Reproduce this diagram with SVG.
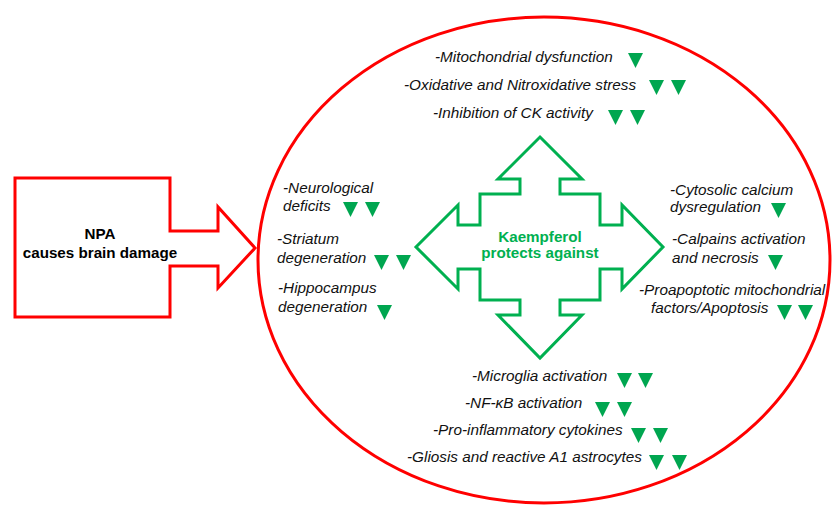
<svg xmlns="http://www.w3.org/2000/svg" width="832" height="506" viewBox="0 0 832 506">
<defs>
<style>
.red{fill:#fff;stroke:#ff0000;stroke-width:3;stroke-linejoin:miter}
.grn{fill:#fff;stroke:#00b050;stroke-width:3;stroke-linejoin:miter}
.it{font-family:"Liberation Sans",Arial,sans-serif;font-style:italic;font-size:15.3px;fill:#111}
.bd{font-family:"Liberation Sans",Arial,sans-serif;font-weight:bold;font-size:15.2px;text-anchor:middle}
.tri{fill:#00a650}
</style>
<polygon id="dn" class="tri" points="0,0 15,0 7.5,15"/>
</defs>
<rect width="832" height="506" fill="#fff"/>
<g id="connectors">
<polygon class="red" points="15,178 170,178 170,231 218,231 218,207 255,248 218,288 218,266 170,266 170,317 15,317"/>
</g>
<g id="npa">
<text class="bd" x="100" y="239" fill="#000">NPA</text>
<text class="bd" x="100" y="258" fill="#000">causes brain damage</text>
</g>
<g id="ellipse">
<ellipse class="red" cx="544" cy="260" rx="286" ry="243" fill="none"/>
</g>
<g id="kaempferol">
<polygon class="grn" points="540,137 582,179 560,179 560,194 600,194 600,225 622,225 622,205 663,247 622,289 622,269 600,269 600,300 560,300 560,315 582,315 540,358 498,315 520,315 520,300 480,300 480,269 458,269 458,289 416,247 458,205 458,225 480,225 480,194 520,194 520,179 498,179"/>
<text class="bd" x="540" y="242" fill="#00b050">Kaempferol</text>
<text class="bd" x="540" y="258" fill="#00b050">protects against</text>
</g>
<g id="top-effects">
<text class="it" x="435" y="62">-Mitochondrial dysfunction</text>
<use href="#dn" x="628" y="53"/>
<text class="it" x="404" y="90">-Oxidative and Nitroxidative stress</text>
<use href="#dn" x="649" y="80"/><use href="#dn" x="671" y="80"/>
<text class="it" x="433" y="118">-Inhibition of CK activity</text>
<use href="#dn" x="608" y="110"/><use href="#dn" x="630" y="110"/>
</g>
<g id="left-effects">
<text class="it" x="283" y="193">-Neurological</text>
<text class="it" x="283" y="211">deficits</text>
<use href="#dn" x="343" y="202"/><use href="#dn" x="365" y="202"/>
<text class="it" x="277" y="244">-Striatum</text>
<text class="it" x="277" y="263">degeneration</text>
<use href="#dn" x="374" y="255"/><use href="#dn" x="396" y="255"/>
<text class="it" x="278" y="293">-Hippocampus</text>
<text class="it" x="278" y="312">degeneration</text>
<use href="#dn" x="377" y="305"/>
</g>
<g id="right-effects">
<text class="it" x="670" y="195">-Cytosolic calcium</text>
<text class="it" x="670" y="212">dysregulation</text>
<use href="#dn" x="771" y="203"/>
<text class="it" x="672" y="244">-Calpains activation</text>
<text class="it" x="672" y="263">and necrosis</text>
<use href="#dn" x="768" y="255"/>
<text class="it" x="639" y="295">-Proapoptotic mitochondrial</text>
<text class="it" x="651" y="313">factors/Apoptosis</text>
<use href="#dn" x="777" y="305"/><use href="#dn" x="798" y="305"/>
</g>
<g id="bottom-effects">
<text class="it" x="472" y="381">-Microglia activation</text>
<use href="#dn" x="617" y="373"/><use href="#dn" x="638" y="373"/>
<text class="it" x="465" y="408">-NF-κB activation</text>
<use href="#dn" x="595" y="402"/><use href="#dn" x="617" y="402"/>
<text class="it" x="433" y="435">-Pro-inflammatory cytokines</text>
<use href="#dn" x="631" y="428"/><use href="#dn" x="653" y="428"/>
<text class="it" x="407" y="462">-Gliosis and reactive A1 astrocytes</text>
<use href="#dn" x="649" y="455"/><use href="#dn" x="672" y="455"/>
</g>
</svg>
